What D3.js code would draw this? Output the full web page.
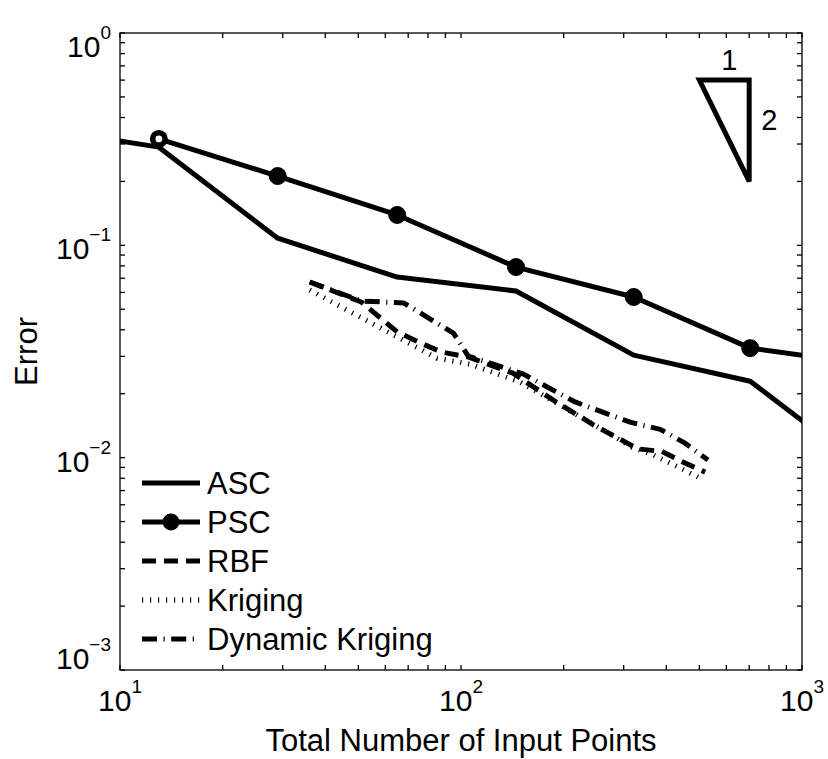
<!DOCTYPE html>
<html lang="en">
<head>
<meta charset="utf-8">
<title>Error vs input points</title>
<script src="https://cdn.jsdelivr.net/npm/d3@7"></script>
<style>
  body { margin: 0; background: #fff; }
  text { font-family: "Liberation Sans", Arial, Helvetica, sans-serif; fill: #000; }
</style>
</head>
<body>
<svg id="chart" width="828" height="759"></svg>
<script>
// sparse grid sizes (ASC / PSC)
var ascN   = [5, 13, 29, 65, 145, 321, 705, 1537];
var ascErr = [0.369, 0.290, 0.108, 0.0709, 0.0609, 0.0304, 0.0229, 0.00884];
var pscN   = [13, 29, 65, 145, 321, 705, 1537];
var pscErr = [0.317, 0.212, 0.139, 0.0790, 0.0571, 0.0328, 0.0276];

// scattered-data methods
var rbfN    = [36, 51, 65, 76, 88, 105, 142, 186, 244, 330, 388, 448, 520];
var rbfErr  = [0.0672, 0.0541, 0.0391, 0.0347, 0.0314, 0.0298, 0.0250, 0.0187, 0.0143, 0.0110, 0.0107, 0.00953, 0.00855];
var krigN   = [36, 85, 106, 149, 195, 261, 317, 366, 433, 502];
var krigErr = [0.0616, 0.0294, 0.0276, 0.0227, 0.0177, 0.0135, 0.0112, 0.0103, 0.00904, 0.00801];
var dkN     = [36, 51, 68, 95, 105, 152, 216, 313, 384, 454, 530];
var dkErr   = [0.0672, 0.0547, 0.0535, 0.0386, 0.0301, 0.0248, 0.0183, 0.0147, 0.0136, 0.0117, 0.00975];

// slope triangle (rate 1:2)
var triN   = [500, 700, 700];
var triErr = [0.6, 0.6, 0.2];

var legendNames = ['ASC', 'PSC', 'RBF', 'Kriging', 'Dynamic Kriging'];

var svg = d3.select('#chart');
var plotL = 120, plotR = 802, plotT = 33, plotB = 670;

var x = d3.scaleLog().domain([10, 1000]).range([plotL, plotR]);
var y = d3.scaleLog().domain([1e-3, 1]).range([plotB, plotT]);

svg.append('rect').attr('width', 828).attr('height', 759).attr('fill', '#fff');

svg.append('clipPath').attr('id', 'plotclip')
  .append('rect')
  .attr('x', plotL).attr('y', plotT)
  .attr('width', plotR - plotL).attr('height', plotB - plotT);

var zip = function(a, b) { return a.map(function(v, i) { return [v, b[i]]; }); };
var line = d3.line().x(function(d) { return x(d[0]); }).y(function(d) { return y(d[1]); });

var styles = {
  ASC:     {dash: null},
  PSC:     {dash: null},
  RBF:     {dash: '14,8'},
  Kriging: {dash: '1.2,6.8'},
  'Dynamic Kriging': {dash: '15,6.5,1.2,6.5'}
};

var plot = svg.append('g').attr('clip-path', 'url(#plotclip)');

var drawSeries = function(name, xs, ys) {
  plot.append('path')
    .datum(zip(xs, ys))
    .attr('d', line)
    .attr('fill', 'none')
    .attr('stroke', '#000')
    .attr('stroke-width', 5)
    .attr('stroke-linejoin', 'round')
    .attr('stroke-dasharray', styles[name].dash);
};

drawSeries('Kriging', krigN, krigErr);
drawSeries('RBF', rbfN, rbfErr);
drawSeries('Dynamic Kriging', dkN, dkErr);
drawSeries('ASC', ascN, ascErr);
drawSeries('PSC', pscN, pscErr);

plot.selectAll('circle.psc')
  .data(zip(pscN, pscErr))
  .enter().append('circle')
  .attr('class', 'psc')
  .attr('cx', function(d) { return x(d[0]); })
  .attr('cy', function(d) { return y(d[1]); })
  .attr('r', function(d, i) { return i == 0 ? 6.2 : 8.5; })
  .attr('fill', function(d, i) { return i == 0 ? '#fff' : '#000'; })
  .attr('stroke', '#000')
  .attr('stroke-width', function(d, i) { return i == 0 ? 5.6 : 1; });

// slope triangle
svg.append('path')
  .datum(zip(triN, triErr))
  .attr('d', function(d) { return line(d) + 'Z'; })
  .attr('fill', 'none')
  .attr('stroke', '#000')
  .attr('stroke-width', 5)
  .attr('stroke-linejoin', 'miter')
  .attr('stroke-miterlimit', 2);

svg.append('text')
  .attr('x', (x(triN[0]) + x(triN[1])) / 2 + 5)
  .attr('y', y(triErr[0]) - 10)
  .attr('text-anchor', 'middle')
  .style('font-size', '29px')
  .text('1');
svg.append('text')
  .attr('x', x(triN[1]) + 12)
  .attr('y', (y(triErr[1]) + y(triErr[2])) / 2 - 1)
  .style('font-size', '29px')
  .text('2');

// axes box and ticks (inward, all sides)
var axes = svg.append('g').attr('stroke', '#000').attr('stroke-width', 1.3);
axes.append('rect')
  .attr('x', plotL).attr('y', plotT)
  .attr('width', plotR - plotL).attr('height', plotB - plotT)
  .attr('fill', 'none');

var tl = 5;
x.ticks().forEach(function(t) {
  var px = x(t);
  axes.append('line').attr('x1', px).attr('x2', px).attr('y1', plotB).attr('y2', plotB - tl);
  axes.append('line').attr('x1', px).attr('x2', px).attr('y1', plotT).attr('y2', plotT + tl);
});
y.ticks().forEach(function(t) {
  var py = y(t);
  axes.append('line').attr('x1', plotL).attr('x2', plotL + tl).attr('y1', py).attr('y2', py);
  axes.append('line').attr('x1', plotR).attr('x2', plotR - tl).attr('y1', py).attr('y2', py);
});

var isDecade = function(t) { return Math.abs(Math.log10(t) - Math.round(Math.log10(t))) < 1e-9; };
var expLabel = function(sel, t) {
  var e = Math.round(Math.log10(t));
  sel.append('tspan').text('10');
  sel.append('tspan')
    .attr('dy', -18)
    .style('font-size', '19px')
    .text(e < 0 ? '\u2212' + (-e) : e);
};

x.ticks().filter(isDecade).forEach(function(t) {
  var lab = svg.append('text')
    .attr('x', x(t))
    .attr('y', 711)
    .attr('text-anchor', 'middle')
    .style('font-size', '30px');
  expLabel(lab, t);
});

y.ticks().filter(isDecade).forEach(function(t) {
  var base = Math.max(57, Math.min(plotB - 1, y(t) + 14));
  var lab = svg.append('text')
    .attr('x', 111)
    .attr('y', base)
    .attr('text-anchor', 'end')
    .style('font-size', '30px');
  expLabel(lab, t);
});

svg.append('text')
  .attr('x', (plotL + plotR) / 2)
  .attr('y', 751)
  .attr('text-anchor', 'middle')
  .style('font-size', '31px')
  .text('Total Number of Input Points');

svg.append('text')
  .attr('transform', 'translate(37,' + ((plotT + plotB) / 2) + ') rotate(-90)')
  .attr('text-anchor', 'middle')
  .style('font-size', '31px')
  .text('Error');

// legend (no box)
var legend = svg.append('g');
legendNames.forEach(function(name, i) {
  var ly = 483 + i * 39;
  legend.append('line')
    .attr('x1', 142).attr('x2', 200)
    .attr('y1', ly).attr('y2', ly)
    .attr('stroke', '#000')
    .attr('stroke-width', 5)
    .attr('stroke-dasharray', styles[name].dash);
  if (name == 'PSC') {
    legend.append('circle')
      .attr('cx', 171).attr('cy', ly).attr('r', 8.5)
      .attr('fill', '#000');
  }
  legend.append('text')
    .attr('x', 207)
    .attr('y', ly + 11)
    .style('font-size', '31px')
    .text(name);
});
</script>
</body>
</html>
